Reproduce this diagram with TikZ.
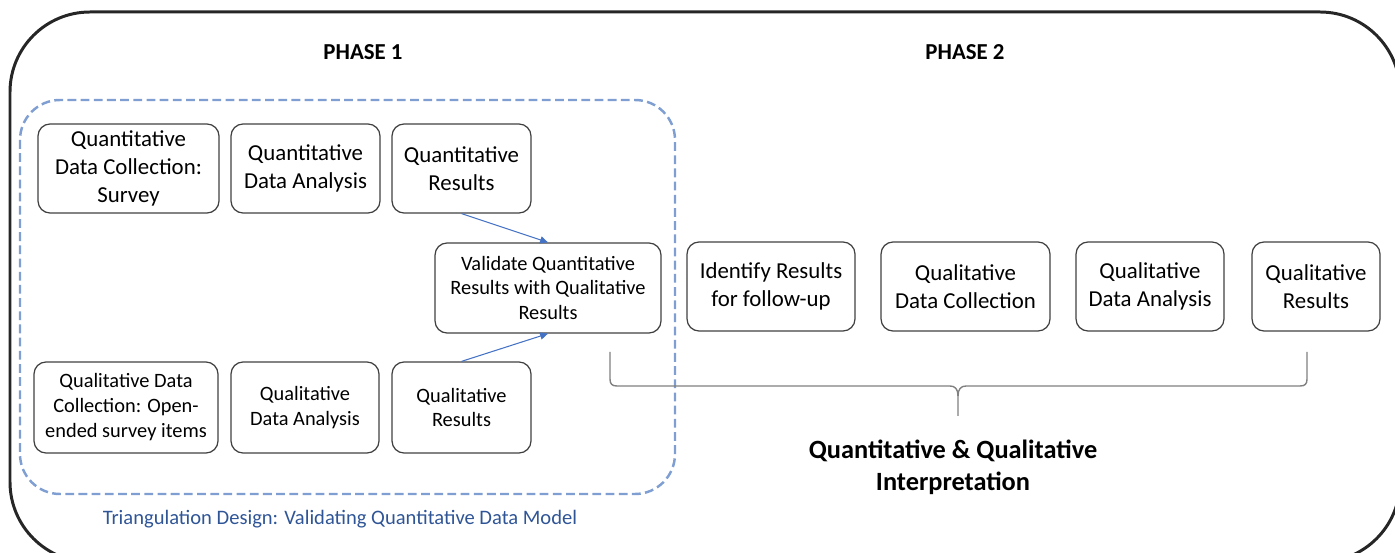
\documentclass[tikz,border=0pt]{standalone}
\usepackage{fontspec}
\setmainfont{Carlito}
\usepackage{xcolor}
\usepackage{tikz}
\usetikzlibrary{arrows.meta}
\definecolor{boxline}{HTML}{404040}
\definecolor{dashblue}{HTML}{7F9FD3}
\definecolor{captionblue}{HTML}{2F5597}
\definecolor{arrowblue}{HTML}{4472C4}
\definecolor{bracegray}{HTML}{808080}

\tikzset{
  stepbox/.style={draw=boxline, line width=0.7pt, rounded corners=0.24cm,
    align=center, inner sep=0pt, minimum height=1.78cm,
    font=\fontsize{13}{16}\selectfont},
  smallbox/.style={stepbox, minimum height=1.82cm,
    font=\fontsize{11.6}{14.2}\selectfont},
  link/.style={draw=arrowblue, line width=0.6pt,
    -{Triangle[length=4.5pt, width=4pt]}},
  phase/.style={font=\fontsize{13}{16}\selectfont\bfseries},
}

\begin{document}
\begin{tikzpicture}[x=0.02cm, y=-0.02cm]
    \useasboundingbox (0,0) rectangle (1395,553);
    \clip (0,0) rectangle (1395,553);

    % outer frame, runs off the page on the right and bottom
    \draw[line width=1.7pt, draw=black!85, rounded corners=1.6cm]
      (10,12) rectangle (1400,562);

    \node[phase] (ph1) at (363,52) {PHASE 1};
    \node[phase] (ph2) at (965,52) {PHASE 2};

    % triangulation part
    \draw[dashblue, line width=1.4pt, dash pattern=on 5pt off 2.5pt,
          rounded corners=0.8cm] (20,100) rectangle (675,494);
    \node[text=captionblue, font=\fontsize{11.7}{14}\selectfont]
      (tri) at (340,519) {Triangulation Design: Validating Quantitative Data Model};

    \node[stepbox, minimum width=3.62cm] (qn1) at (128.5,168.5)
      {Quantitative\\Data Collection:\\Survey};
    \node[stepbox, minimum width=2.98cm] (qn2) at (305.5,168.5)
      {Quantitative\\Data Analysis};
    \node[stepbox, minimum width=2.78cm] (qn3) at (461.5,168.5)
      {Quantitative\\Results};

    \node[smallbox, minimum width=4.52cm, minimum height=1.8cm] (val) at (548,288)
      {Validate Quantitative\\Results with Qualitative\\Results};

    \node[smallbox, minimum width=3.68cm] (ql1) at (126,407.5)
      {Qualitative Data\\Collection: Open-\\ended survey items};
    \node[smallbox, minimum width=2.96cm] (ql2) at (305,407.5)
      {Qualitative\\Data Analysis};
    \node[smallbox, minimum width=2.78cm] (ql3) at (461.5,407.5)
      {Qualitative\\Results};

    \draw[link] (qn3.south) -- (val.north);
    \draw[link] (ql3.north) -- (val.south);

    % follow-up part
    \node[stepbox, minimum width=3.36cm] (fol) at (771,286.5)
      {Identify Results\\for follow-up};
    \node[stepbox, minimum width=3.38cm] (qc2) at (965.5,286.5)
      {Qualitative\\Data Collection};
    \node[stepbox, minimum width=2.96cm] (qa2) at (1150,286.5)
      {Qualitative\\Data Analysis};
    \node[stepbox, minimum width=2.56cm] (qr2) at (1316,286.5)
      {Qualitative\\Results};

    % brace under the boxes
    \coordinate (bl) at (610,352);
    \coordinate (br) at (1307,352);
    \coordinate (btip) at (958,416);
    \draw[bracegray, line width=0.8pt]
      (bl) -- (610,379) .. controls (610,384) and (612,386) .. (617,386)
      -- (950,386) .. controls (955,386) and (958,389) .. (958,396) -- (btip);
    \draw[bracegray, line width=0.8pt]
      (br) -- (1307,379) .. controls (1307,384) and (1305,386) .. (1300,386)
      -- (966,386) .. controls (961,386) and (958,389) .. (958,396);

    \node[font=\fontsize{15}{18}\selectfont\bfseries, align=center]
      (interp) at (953,467) {Quantitative \& Qualitative\\Interpretation};
\end{tikzpicture}
\end{document}
